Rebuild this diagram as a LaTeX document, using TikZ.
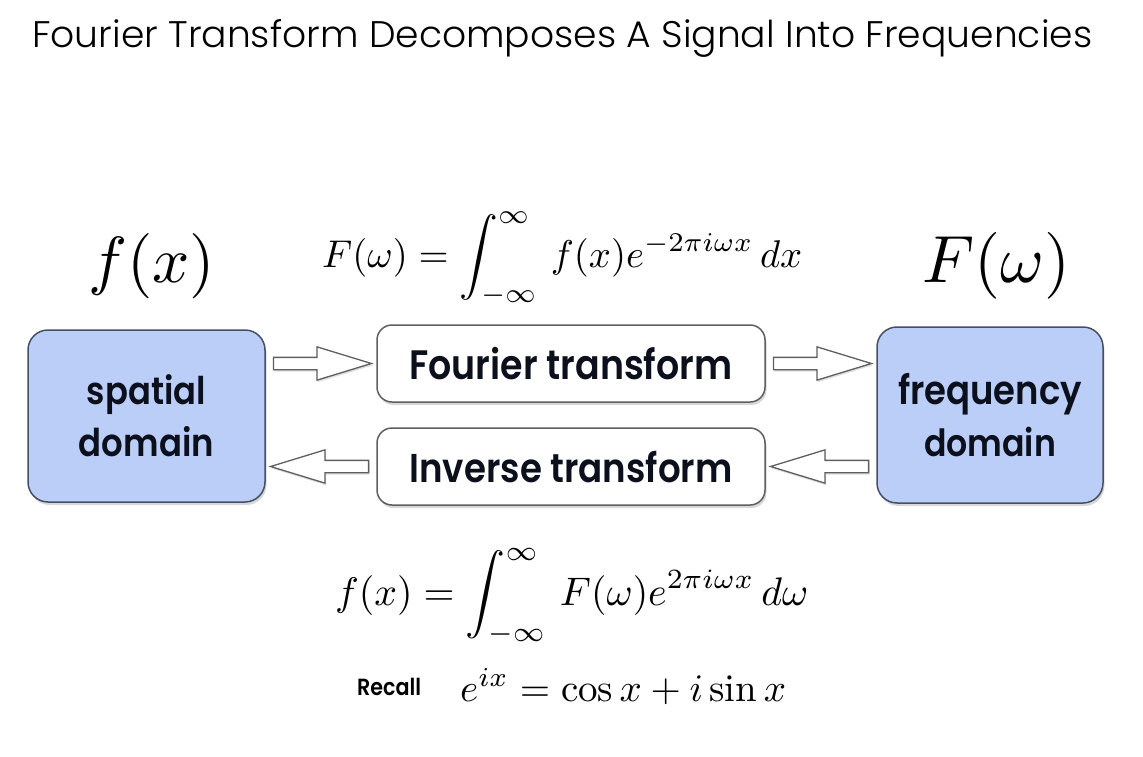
\documentclass[tikz,border=0pt]{standalone}
\usepackage{fontspec}
\usepackage{amsmath}
\usepackage{graphicx}
\newfontfamily\titlefont{Poppins Light}
\newfontfamily\boxfont{Poppins SemiBold}
\usetikzlibrary{shapes.arrows,shadows,calc}
\definecolor{boxblue}{RGB}{186,206,247}
\definecolor{boxedge}{RGB}{70,80,100}
\definecolor{wedge}{RGB}{95,95,95}
\definecolor{ink}{RGB}{12,16,28}
\newcommand\fitw[2]{\resizebox{#1}{!}{#2}}
\newcommand\fitb[2]{\scalebox{1}[1.13]{\resizebox{#1}{!}{#2}}}
\begin{document}
\begin{tikzpicture}[x=1pt,y=-1pt,
  bluebox/.style={draw=boxedge, fill=boxblue, line width=1.5pt, rounded corners=20pt,
    drop shadow={shadow xshift=1.5pt, shadow yshift=-3pt, opacity=0.3},
    text=ink, align=center, font={\boxfont\fontsize{30pt}{52pt}\selectfont}},
  whitebox/.style={draw=wedge, fill=white, line width=1.5pt, rounded corners=15pt,
    drop shadow={shadow xshift=1.5pt, shadow yshift=-3pt, opacity=0.3},
    text=ink, font=\boxfont},
  barrow/.style={single arrow, draw=wedge, fill=white, line width=1.3pt,
    minimum height=98pt, single arrow head extend=10.5pt, single arrow tip angle=34,
    text height=11pt, text depth=0pt, inner xsep=0pt, inner ysep=0pt, anchor=tail,
    drop shadow={shadow xshift=1pt, shadow yshift=-2pt, opacity=0.25}},
  txt/.style={inner sep=0pt, anchor=base west, text=black}]
\fill[white] (0,0) rectangle (1143,757);
\useasboundingbox (0,0) rectangle (1143,757);

\node[txt] (title) at (32,48) {\resizebox{1060pt}{28pt}{\titlefont Fourier Transform Decomposes A Signal Into Frequencies}};

\node[txt] (fx) at (88,282) {\fitw{127pt}{$f(x)$}};
\node[txt] (Fw) at (922,282) {\fitw{148pt}{$F(\omega)$}};
\node[txt] (ft) at (322,267) {\fitw{480pt}{$\displaystyle F(\omega)=\int_{-\infty}^{\infty}\, f(x)e^{-2\pi i\omega x}\,dx$}};

\node[bluebox, minimum width=237pt, minimum height=172pt] (spatial) at (146.5,416) {\fitb{119pt}{spatial}\\\fitb{135pt}{domain}};
\node[bluebox, minimum width=226pt, minimum height=176pt] (freq) at (990,415) {\fitb{184pt}{frequency}\\\fitb{132pt}{domain}};
\node[whitebox, minimum width=388pt, minimum height=77pt] (fourier) at (571,363.5) {\fitb{323pt}{Fourier transform}};
\node[whitebox, minimum width=388pt, minimum height=77pt] (inverse) at (571,466.5) {\fitb{323pt}{Inverse transform}};

\coordinate (a1s) at ($(spatial.east |- fourier.center)+(7,0)$);
\coordinate (a2s) at ($(fourier.east)+(7,0)$);
\coordinate (a3s) at ($(freq.west |- inverse.center)+(-7,0)$);
\coordinate (a4s) at ($(inverse.west)+(-7,0)$);
\node[barrow] (arr1) at (a1s) {};
\node[barrow] (arr2) at (a2s) {};
\node[barrow, rotate=180] (arr3) at (a3s) {};
\node[barrow, rotate=180] (arr4) at (a4s) {};

\node[txt] (ift) at (335,605) {\fitw{473pt}{$\displaystyle f(x)=\int_{-\infty}^{\infty}\, F(\omega)e^{2\pi i\omega x}\,d\omega$}};
\node[txt, font=\boxfont] (recall) at (357,695) {\fitb{64pt}{Recall}};
\node[txt] (euler) at (460,701) {\fitw{326pt}{$e^{ix}=\cos x+i\sin x$}};
\end{tikzpicture}
\end{document}
